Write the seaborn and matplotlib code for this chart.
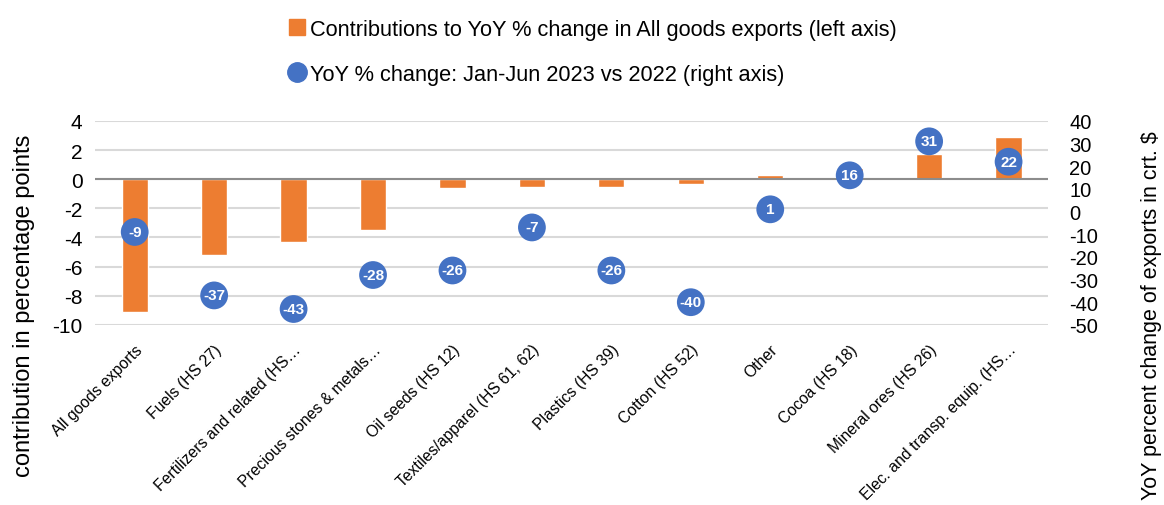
import numpy as np
import pandas as pd
import matplotlib
matplotlib.use('Agg')
import matplotlib.pyplot as plt
from matplotlib.lines import Line2D
import seaborn as sns

# categories and values
categories = ['All goods exports', 'Fuels (HS 27)', 'Fertilizers and related (HS…',
              'Precious stones & metals…', 'Oil seeds (HS 12)', 'Textiles/apparel (HS 61, 62)',
              'Plastics (HS 39)', 'Cotton (HS 52)', 'Other', 'Cocoa (HS 18)',
              'Mineral ores (HS 26)', 'Elec. and transp. equip. (HS…']
contrib_pp = [-9.1, -5.2, -4.3, -3.5, -0.6, -0.55, -0.55, -0.3, 0.3, 0.8, 1.75, 2.9]
yoy_pct = [-9, -37, -43, -28, -26, -7, -26, -40, 1, 16, 31, 22]

bar_label = 'Contributions to YoY % change in All goods exports (left axis)'
dot_label = 'YoY % change: Jan-Jun 2023 vs 2022 (right axis)'

orange = '#ed7d31'
blue = '#4472c4'

sns.set_style('white')
plt.rcParams['font.family'] = ['Liberation Sans', 'DejaVu Sans']
plt.rcParams['axes.unicode_minus'] = False
# excel-like black text
for k in ['text.color', 'axes.labelcolor', 'xtick.color', 'ytick.color']:
    plt.rcParams[k] = 'black'

df = pd.DataFrame({'cat': categories, 'contrib': contrib_pp, 'yoy': yoy_pct})
df['pos'] = np.arange(len(df))

fig = plt.figure(figsize=(11.64, 5.06), dpi=100)
ax = fig.add_axes([0.0816, 0.356, 0.819, 0.403])

sns.barplot(data=df, x='cat', y='contrib', color=orange, width=0.33,
            saturation=1, ax=ax, zorder=2)
ax.set_ylim(-10, 4)
ax.set_yticks(np.arange(-10, 5, 2))
ax.yaxis.grid(True, color='#d9d9d9', linewidth=1.5, zorder=0)
ax.set_axisbelow(True)
ax.axhline(0, color='#8c8c8c', linewidth=1.5, zorder=3)
for s in ax.spines.values():
    s.set_visible(False)
ax.set_xlabel('')
ax.set_ylabel('contribution in percentage points', fontsize=17)
ax.yaxis.set_label_coords(-0.063, 0.1)
ax.tick_params(axis='y', labelsize=15, length=0, pad=9)
ax.tick_params(axis='x', length=0, pad=12)
ax.set_xticks(df['pos'])
ax.set_xticklabels(categories, rotation=45, ha='right', rotation_mode='anchor', fontsize=11.3)

ax2 = ax.twinx()
sns.scatterplot(data=df, x='pos', y='yoy', color=blue, s=400, edgecolor='none',
                ax=ax2, zorder=4, legend=False)
for p, v in zip(df['pos'], df['yoy']):
    ax2.text(p, v, str(v), color='white', fontsize=11, fontweight='bold',
             ha='center', va='center', zorder=5)
ax2.set_ylim(-50, 40)
ax2.set_yticks(np.arange(-50, 41, 10))
for s in ax2.spines.values():
    s.set_visible(False)
ax2.tick_params(axis='y', labelsize=14.5, length=0, pad=15)
ax2.set_ylabel('YoY percent change of exports in crt. $', fontsize=15.5)
ax2.yaxis.set_label_coords(1.097, 0.05)
ax.set_xlim(-0.5, len(categories) - 0.5)

handles = [Line2D([], [], marker='s', color=orange, linestyle='none', markersize=11),
           Line2D([], [], marker='o', color=blue, linestyle='none', markersize=14)]
fig.legend(handles, [bar_label, dot_label], loc='upper center', bbox_to_anchor=(0.509, 1.0),
           frameon=False, fontsize=15.7, labelspacing=1.1, handletextpad=0.2,
           handlelength=0.8)

fig.savefig('out.png', dpi=100)
